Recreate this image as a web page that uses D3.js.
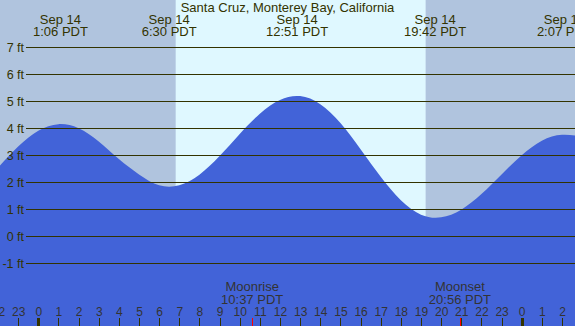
<!DOCTYPE html>
<html><head><meta charset="utf-8">
<script src="https://cdn.jsdelivr.net/npm/d3@7"></script>
<style>html,body{margin:0;padding:0;overflow:hidden;background:#fff}svg{display:block}</style>
</head><body>
<svg id="c" width="575" height="326"></svg>
<script>
// ---- data ----
const title = "Santa Cruz, Monterey Bay, California";
// hours since midnight Sep 14 (PDT)
const hours = [-2,-1,0,1,2,3,4,5,6,7,8,9,10,11,12,13,14,15,16,17,18,19,20,21,22,23,24,25,26,27];
const heights = [2.55,3.33,3.92,4.16,4.01,3.52,2.87,2.30,1.90,1.90,2.29,2.98,3.80,4.55,5.06,5.20,4.90,4.20,3.23,2.21,1.34,0.81,0.71,0.99,1.57,2.30,3.01,3.55,3.77,3.70];
const extremeTimes = [1.1, 6.5, 12.85, 19.7, 26.117];
const extremeDates = ["Sep 14","Sep 14","Sep 14","Sep 14","Sep 15"];
const extremeLabels = ["1:06 PDT","6:30 PDT","12:51 PDT","19:42 PDT","2:07 PDT"];
const sunrise = 6.82, sunset = 19.23;
const moonEvents = ["Moonrise","Moonset"];
const moonTimes = [10.617, 20.933];
const moonLabels = ["10:37 PDT","20:56 PDT"];
const yTicks = [-1,0,1,2,3,4,5,6,7];
const hourTicks = d3.range(-2, 28);

// ---- drawing ----
const W = 575, H = 326;
const svg = d3.select("#c");
const x = d3.scaleLinear().domain([0, 24]).range([38.3, 521.7]);
const y = d3.scaleLinear().domain([-1, 7]).range([263, 47]);
const font = "'Liberation Sans', Arial, sans-serif";
const ink = "#333300";

// backgrounds
svg.append("rect").attr("x",0).attr("y",0).attr("width",W).attr("height",H).attr("fill","#b0c4de");
svg.append("rect").attr("x",x(sunrise)).attr("y",0).attr("width",x(sunset)-x(sunrise)).attr("height",H).attr("fill","#dff8ff");

// tide area
const pts = hours.map((h,i)=>[h,heights[i]]);
const area = d3.area().x(d=>x(d[0])).y0(H).y1(d=>y(d[1])+0.5).curve(d3.curveNatural);
svg.append("path").datum(pts).attr("d",area).attr("fill","#4263d8");

// grid lines + y labels
const yAxis = d3.axisLeft(y).tickValues(yTicks).tickSize(-(W-26)).tickFormat(d=>d+" ft").tickPadding(2).offset(0.5);
const ga = svg.append("g").attr("transform","translate(26,0)").call(yAxis);
ga.select(".domain").remove();
ga.selectAll(".tick line").attr("stroke",ink).attr("stroke-width",1).attr("x1",0).attr("x2",W-26).attr("shape-rendering","crispEdges");
ga.selectAll(".tick text").attr("fill",ink).style("font-family",font).style("font-size","12.5px").attr("x",-2).attr("dy","0.36em");

// title
svg.append("text").attr("x",287.5).attr("y",12).attr("text-anchor","middle")
  .style("font-family",font).style("font-size","13px").attr("fill",ink).text(title);

// extreme labels
extremeTimes.forEach((t,i)=>{
  const g = svg.append("text").attr("text-anchor","middle").style("font-family",font).style("font-size","13px").attr("fill",ink);
  g.append("tspan").attr("x",x(t)).attr("y",24).text(extremeDates[i]);
  g.append("tspan").attr("x",x(t)).attr("y",36).text(extremeLabels[i]);
});

// moon labels
moonTimes.forEach((t,i)=>{
  const g = svg.append("text").attr("text-anchor","middle").style("font-family",font).style("font-size","13px").attr("fill","#333");
  g.append("tspan").attr("x",x(t)).attr("y",291).text(moonEvents[i]);
  g.append("tspan").attr("x",x(t)).attr("y",303.5).text(moonLabels[i]);
});

// hour axis
const xAxis = d3.axisBottom(x).tickValues(hourTicks).tickSize(0).tickFormat(d=>((d%24)+24)%24);
const gx = svg.append("g").attr("transform","translate(0,303)").call(xAxis);
gx.select(".domain").remove();
gx.selectAll(".tick text").attr("fill","#333").style("font-family",font).style("font-size","12px").attr("y",0).attr("dy","12.7");
// tick marks
svg.append("g").selectAll("line").data(hourTicks).join("line")
  .attr("x1",d=>Math.round(x(d))+0.5).attr("x2",d=>Math.round(x(d))+0.5)
  .attr("y1",318).attr("y2",H)
  .attr("stroke",ink).attr("stroke-width",d=>(d%24===0)?3:1);
svg.append("g").selectAll("line").data(moonTimes).join("line")
  .attr("x1",d=>Math.round(x(d))+0.5).attr("x2",d=>Math.round(x(d))+0.5)
  .attr("y1",318).attr("y2",H).attr("stroke","#ff0000").attr("stroke-width",1);
</script>
</body></html>
